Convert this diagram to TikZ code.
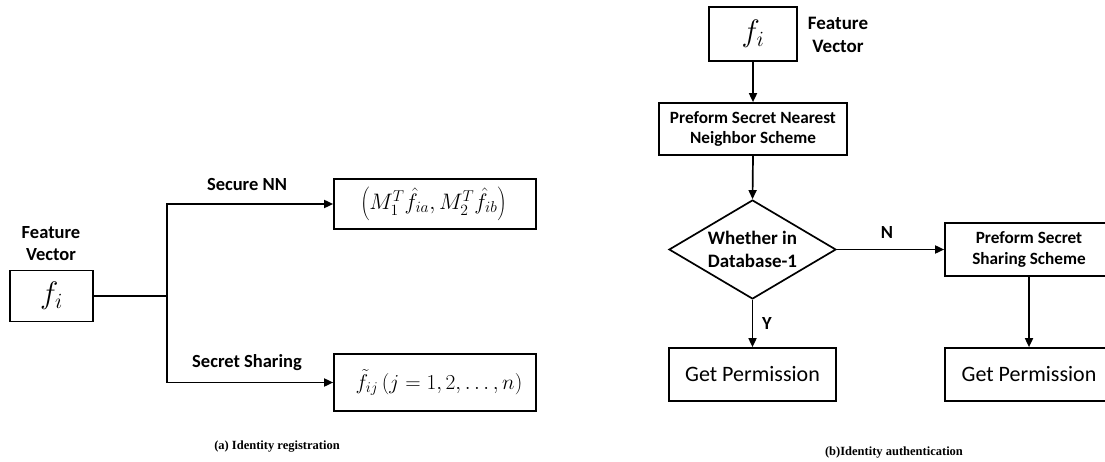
\RequirePackage{fix-cm}
\documentclass[tikz,border=0pt]{standalone}
\usepackage{fontspec}
\setmainfont{Carlito}
\newfontfamily\capfont{Liberation Serif}
\usetikzlibrary{arrows.meta,shapes.geometric}
\begin{document}
\begin{tikzpicture}[x=1pt,y=-1pt,line width=1.7pt,
  box/.style={draw,rectangle,inner sep=0pt,align=center},
  arr/.style={-{Triangle[length=9pt,width=8pt]}},
  lbl/.style={font=\fontsize{18.5}{22}\selectfont\bfseries,align=center,inner sep=0pt},
  stepfont/.style={font=\fontsize{17.2}{20.5}\selectfont\bfseries},
  permfont/.style={font=\fontsize{22}{26}\selectfont},
  capt/.style={font=\capfont\fontsize{12.5}{14}\selectfont\bfseries,inner sep=0pt}]
\clip (0,0) rectangle (1105,462);
% ---------- (a) registration ----------
\node[box,minimum width=83pt,minimum height=51pt] (fa) at (51.5,296)
  {\fontsize{31}{34}\selectfont$f_i$};
\node[lbl] (fva) at (51,244) {Feature\\Vector};
\node[box,minimum width=202pt,minimum height=50pt] (nn) at (435,204)
  {\hspace*{-3pt}\scalebox{1.12}{\fontsize{20}{24}\selectfont$\left(M_1^T\hat f_{ia},M_2^T\hat f_{ib}\right)$}};
\node[box,minimum width=202pt,minimum height=57pt] (ss) at (435,382.5)
  {\hspace*{8pt}\scalebox{0.97}{\fontsize{22}{26}\selectfont$\tilde f_{ij}\left(j=1,2,\ldots,n\right)$}};
\coordinate (br) at (167,296);
\coordinate (bt) at (167,204);
\coordinate (bb) at (167,382.5);
\draw (fa.east) -- (br);
\draw[arr] (br) -- (bt) -- (nn.west);
\draw[arr] (br) -- (bb) -- (ss.west);
\node[lbl] (lnn) at (247,185) {Secure NN};
\node[lbl] (lss) at (247,363) {Secret Sharing};
\node[capt] (ca) at (277,447) {(a) Identity registration};
% ---------- (b) authentication ----------
\node[box,minimum width=88pt,minimum height=54pt] (fb) at (753,34)
  {\fontsize{31}{34}\selectfont$f_i$};
\node[lbl,font=\fontsize{19}{23}\selectfont\bfseries] (fvb) at (838,35) {Feature\\Vector};
\node[box,stepfont,minimum width=188pt,minimum height=52pt] (snn) at (753,129)
  {Preform Secret Nearest\\Neighbor Scheme};
\node[draw,diamond,aspect=1.69,inner sep=0pt,minimum width=167pt,minimum height=99pt,
  align=center,font=\fontsize{19}{23}\selectfont\bfseries] (dia) at (752.5,249.5)
  {Whether in\\Database-1};
\node[box,stepfont,minimum width=168pt,minimum height=53pt] (sss) at (1029,249.5)
  {Preform Secret\\Sharing Scheme};
\node[box,permfont,minimum width=167pt,minimum height=53pt] (gp1) at (752.5,374.5)
  {Get Permission};
\node[box,permfont,minimum width=168pt,minimum height=53pt] (gp2) at (1029,374.5)
  {Get Permission};
\draw[arr] (fb.south) -- (snn.north);
\draw[arr] (snn.south) -- (dia.north);
\draw[arr] (dia.east) -- (sss.west);
\draw[arr] (dia.south) -- (gp1.north);
\draw[arr] (sss.south) -- (gp2.north);
\node[lbl] (ln) at (887,233) {N};
\node[lbl] (ly) at (767,324) {Y};
\node[capt] (cb) at (894,453) {(b)Identity authentication};
\end{tikzpicture}
\end{document}
